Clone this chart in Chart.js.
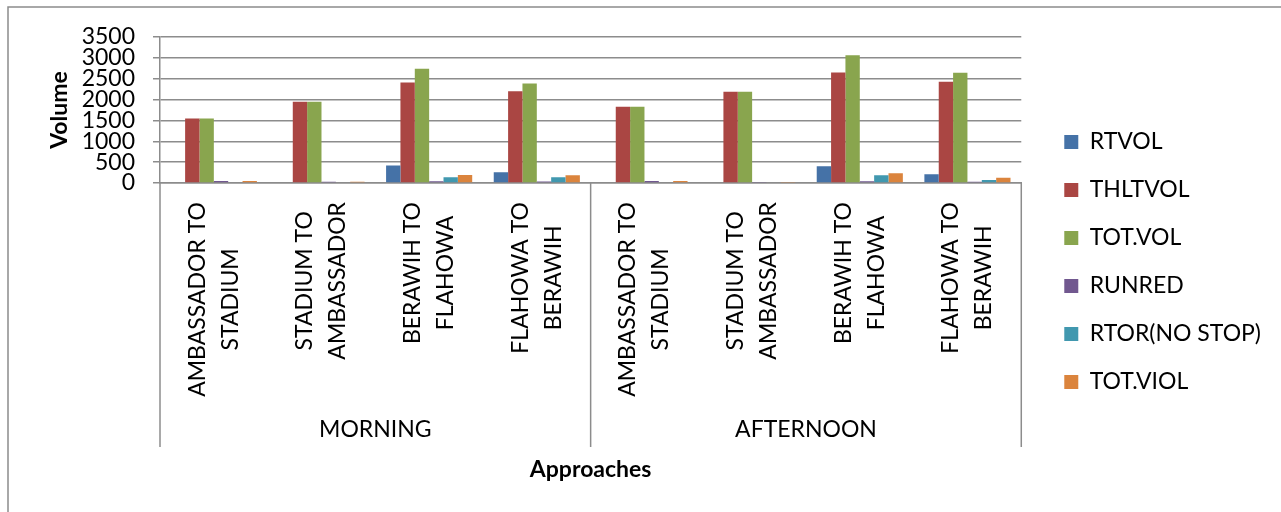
<!DOCTYPE html>
<html>
<head>
<meta charset="utf-8">
<script src="https://cdn.jsdelivr.net/npm/chart.js@4"></script>
<style>
html, body { margin: 0; padding: 0; background: #fff; }
#wrap { width: 1281px; height: 512px; }
</style>
</head>
<body>
<div id="wrap"><canvas id="volumeChart" width="1281" height="512"></canvas></div>
<script>
// approaches (two-line labels), repeated for each period
const approaches = [
    ['AMBASSADOR TO', 'STADIUM'],
    ['STADIUM TO', 'AMBASSADOR'],
    ['BERAWIH TO', 'FLAHOWA'],
    ['FLAHOWA TO', 'BERAWIH'],
];
const periods = ['MORNING', 'AFTERNOON'];
const yTicks = [0, 500, 1000, 1500, 2000, 2500, 3000, 3500];

const rtvol   = [0, 0, 417, 256, 0, 0, 400, 208];
const thltvol = [1545, 1950, 2410, 2200, 1825, 2190, 2650, 2430];
const totvol  = [1545, 1950, 2740, 2385, 1825, 2190, 3060, 2645];
const runred  = [45, 30, 40, 35, 45, 25, 40, 30];
const rtor    = [0, 0, 137, 137, 0, 0, 185, 72];
const totviol = [45, 30, 190, 185, 45, 25, 235, 128];

const labels = periods.flatMap(() => approaches);

Chart.defaults.font.family = 'Lato';
Chart.defaults.color = '#000';

const GRID = '#8c8c8c';

// category labels, period labels, divider lines and the outer frame
const groupAxisPlugin = {
    id: 'groupAxis',
    afterDraw(chart) {
        const ctx = chart.ctx;
        const x = chart.scales.x;
        const area = chart.chartArea;
        const n = approaches.length;
        ctx.save();

        ctx.strokeStyle = GRID;
        ctx.lineWidth = 1.5;
        ctx.beginPath();
        ctx.moveTo(8, 512);
        ctx.lineTo(8, 7);
        ctx.lineTo(1281, 7);
        ctx.stroke();

        for (let g = 0; g <= periods.length; g++) {
            const px = x.getPixelForValue(g * n - 0.5);
            ctx.beginPath();
            ctx.moveTo(px, area.bottom);
            ctx.lineTo(px, 447);
            ctx.stroke();
        }

        ctx.fillStyle = '#000';
        ctx.font = '23px Lato';
        ctx.textAlign = 'center';
        ctx.textBaseline = 'middle';
        periods.forEach((p, g) => {
            const a = x.getPixelForValue(g * n - 0.5);
            const b = x.getPixelForValue((g + 1) * n - 0.5);
            ctx.fillText(p, (a + b) / 2, 430);
        });

        labels.forEach((lines, i) => {
            const cx = x.getPixelForValue(i);
            const maxW = Math.max(...lines.map(l => ctx.measureText(l).width));
            const cy = area.bottom + 19 + maxW / 2;
            ctx.save();
            ctx.translate(cx, cy);
            ctx.rotate(-Math.PI / 2);
            lines.forEach((l, j) => {
                ctx.fillText(l, 0, (j - (lines.length - 1) / 2) * 33);
            });
            ctx.restore();
        });
        ctx.restore();
    },
};

const series = [
    { label: 'RTVOL', data: rtvol, color: '#4572A7' },
    { label: 'THLTVOL', data: thltvol, color: '#AA4643' },
    { label: 'TOT.VOL', data: totvol, color: '#89A54E' },
    { label: 'RUNRED', data: runred, color: '#71588F' },
    { label: 'RTOR(NO STOP)', data: rtor, color: '#4198AF' },
    { label: 'TOT.VIOL', data: totviol, color: '#DB843D' },
];

new Chart(document.getElementById('volumeChart'), {
    type: 'bar',
    data: {
        labels,
        datasets: series.map(s => ({
            label: s.label,
            data: s.data,
            backgroundColor: s.color,
            borderWidth: 0,
            categoryPercentage: 0.8,
            barPercentage: 1,
        })),
    },
    options: {
        responsive: false,
        animation: false,
        layout: { padding: { top: 12, left: 10, right: 10, bottom: 0 } },
        plugins: {
            legend: {
                position: 'right',
                maxWidth: 300,
                labels: { boxWidth: 14, boxHeight: 14, padding: 25, color: '#000', font: { size: 23 } },
            },
            tooltip: { enabled: false },
        },
        scales: {
            x: {
                grid: { display: false },
                border: { display: true, color: GRID, width: 1.5 },
                ticks: { display: false },
                title: { display: true, text: 'Approaches', font: { size: 23, weight: 'bold' }, padding: { top: 0, bottom: 29 } },
                afterFit: s => { s.height = 329; },
            },
            xTop: {
                type: 'category',
                position: 'top',
                grid: { display: false },
                border: { display: false },
                ticks: { display: false },
                afterFit: s => { s.height = 25; },
            },
            y: {
                min: 0,
                max: 3500,
                afterBuildTicks: s => { s.ticks = yTicks.map(v => ({ value: v })); },
                grid: { color: GRID, lineWidth: 1.5, tickLength: 7 },
                border: { display: true, color: GRID, width: 1.5 },
                ticks: { autoSkip: false, padding: 18, color: '#000', font: { size: 23 }, callback: v => String(v) },
                title: { display: true, text: 'Volume', font: { size: 23, weight: 'bold' }, padding: { top: 36, bottom: 0 } },
                afterFit: s => { s.width = 150; },
            },
            yRight: {
                type: 'linear',
                position: 'right',
                grid: { display: false },
                border: { display: false },
                ticks: { display: false },
                afterFit: s => { s.width = 18; },
            },
        },
    },
    plugins: [groupAxisPlugin],
});
</script>
</body>
</html>
